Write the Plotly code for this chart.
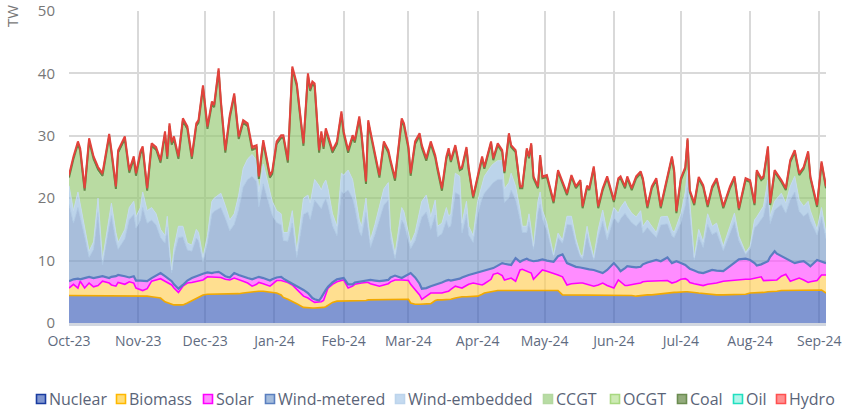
import datetime as dt
import plotly.graph_objects as go

# ---------------- data (TW, daily values) ----------------
day_offsets = [
    0, 2, 4, 5, 7, 9, 11, 13, 15, 18,
    19, 21, 22, 25, 27, 29, 30, 32, 33, 35,
    37, 39, 41, 43, 44, 45, 46, 47, 49, 51,
    53, 55, 57, 58, 60, 62, 64, 65, 67, 68,
    70, 72, 74, 76, 78, 80, 82, 84, 85, 87,
    90, 91, 93, 95, 96, 98, 100, 102, 105, 107,
    108, 109, 110, 112, 113, 114, 115, 116, 118, 120,
    122, 123, 125, 127, 128, 130, 131, 133, 134, 135,
    137, 139, 141, 143, 144, 146, 149, 150, 152, 153,
    155, 157, 158, 160, 162, 164, 165, 167, 169, 170,
    171, 173, 175, 176, 178, 179, 181, 183, 185, 186,
    189, 190, 192, 194, 195, 197, 198, 200, 202, 203,
    205, 206, 207, 208, 210, 211, 212, 214, 217, 219,
    221, 223, 225, 227, 229, 230, 232, 233, 235, 237,
    239, 241, 244, 246, 247, 249, 250, 252, 254, 256,
    257, 259, 261, 263, 265, 268, 270, 271, 272, 274,
    276, 277, 278, 280, 282, 284, 286, 288, 290, 293,
    296, 298, 300, 303, 305, 307, 308, 310, 311, 313,
    314, 316, 317, 319, 321, 323, 325, 327, 329, 331,
    332, 335, 337, 339,
]

nuclear = [
    4.4, 4.4, 4.4, 4.4, 4.4, 4.3, 4.3, 4.3, 4.3, 4.3,
    4.3, 4.3, 4.3, 4.3, 4.3, 4.3, 4.4, 4.4, 4.4, 4.3,
    4.2, 4.1, 4.0, 3.4, 3.3, 3.1, 3.0, 2.9, 2.9, 2.9,
    3.2, 3.6, 3.9, 4.1, 4.5, 4.6, 4.6, 4.6, 4.6, 4.6,
    4.6, 4.6, 4.6, 4.7, 4.8, 4.9, 5.0, 5.1, 5.1, 5.1,
    5.0, 4.9, 4.8, 4.5, 4.1, 3.8, 3.5, 3.1, 2.5, 2.4,
    2.4, 2.4, 2.4, 2.4, 2.4, 2.5, 2.6, 2.8, 3.3, 3.5,
    3.5, 3.6, 3.6, 3.6, 3.6, 3.6, 3.6, 3.6, 3.7, 3.7,
    3.7, 3.7, 3.7, 3.7, 3.7, 3.7, 3.8, 3.8, 3.8, 3.2,
    3.0, 3.0, 3.0, 3.0, 3.1, 3.6, 3.7, 3.7, 3.7, 3.7,
    3.8, 4.0, 4.2, 4.2, 4.2, 4.2, 4.2, 4.3, 4.6, 4.8,
    5.0, 5.1, 5.2, 5.2, 5.2, 5.2, 5.2, 5.2, 5.2, 5.2,
    5.2, 5.2, 5.2, 5.2, 5.2, 5.2, 5.2, 5.2, 5.2, 5.2,
    4.5, 4.5, 4.5, 4.5, 4.5, 4.5, 4.5, 4.5, 4.5, 4.5,
    4.5, 4.5, 4.5, 4.4, 4.4, 4.4, 4.4, 4.4, 4.3, 4.4,
    4.4, 4.5, 4.5, 4.6, 4.6, 4.8, 4.9, 4.9, 4.9, 5.0,
    5.0, 5.0, 5.0, 4.9, 4.8, 4.7, 4.6, 4.6, 4.5, 4.5,
    4.5, 4.5, 4.5, 4.6, 4.8, 4.8, 4.8, 4.9, 4.9, 5.0,
    5.0, 5.1, 5.1, 5.2, 5.2, 5.3, 5.3, 5.3, 5.3, 5.3,
    5.3, 5.3, 5.3, 4.8,
]

biomass = [
    1.2, 1.8, 1.2, 2.3, 1.2, 2.1, 1.5, 1.7, 2.4, 2.1,
    1.8, 1.6, 2.2, 1.9, 2.3, 2.1, 1.2, 0.9, 0.8, 1.2,
    2.5, 2.8, 3.1, 3.3, 3.2, 3.2, 3.1, 2.7, 2.0, 3.0,
    3.2, 2.9, 2.8, 2.7, 2.4, 2.8, 2.8, 2.8, 2.8, 2.7,
    2.4, 2.3, 2.6, 2.3, 1.9, 1.5, 0.9, 1.1, 1.4, 1.2,
    0.9, 1.3, 2.0, 2.3, 2.6, 2.7, 2.6, 2.3, 1.8, 1.6,
    1.3, 1.1, 0.9, 0.9, 1.0, 1.1, 1.9, 2.8, 2.9, 3.1,
    3.3, 3.3, 2.0, 2.3, 2.6, 2.8, 2.8, 2.9, 2.8, 2.6,
    2.4, 2.2, 2.4, 2.6, 2.9, 3.2, 3.1, 3.1, 3.0, 3.0,
    2.4, 1.5, 0.8, 1.3, 1.7, 1.2, 1.1, 1.1, 1.3, 1.4,
    1.6, 1.9, 1.5, 1.4, 1.8, 2.0, 2.2, 2.0, 1.5, 1.5,
    2.0, 2.7, 2.8, 2.4, 1.7, 1.9, 2.0, 1.5, 3.3, 3.4,
    3.1, 2.9, 2.8, 1.8, 2.6, 3.0, 3.3, 3.1, 2.8, 2.5,
    2.9, 1.6, 1.8, 1.9, 1.9, 1.9, 1.7, 1.6, 1.4, 1.6,
    1.9, 1.5, 1.1, 2.5, 2.2, 1.6, 1.6, 1.8, 2.0, 2.0,
    2.2, 2.2, 2.2, 2.1, 2.2, 2.0, 1.5, 1.6, 1.7, 2.0,
    2.1, 1.9, 1.5, 1.4, 1.3, 1.3, 1.6, 1.7, 1.9, 2.2,
    2.3, 2.4, 2.4, 2.4, 2.2, 2.4, 2.5, 2.5, 1.9, 1.8,
    1.8, 1.8, 1.8, 2.3, 2.6, 1.4, 1.7, 1.9, 1.6, 1.2,
    1.3, 1.5, 2.4, 2.9,
]

solar = [
    1.1, 0.8, 1.5, 0.3, 1.6, 1.0, 1.4, 1.3, 0.8, 0.8,
    1.3, 1.6, 1.2, 1.3, 0.7, 1.1, 1.2, 1.5, 1.6, 1.2,
    0.5, 0.7, 0.9, 0.8, 0.7, 0.6, 0.6, 0.6, 0.6, 0.2,
    0.4, 0.7, 0.8, 0.9, 1.0, 0.7, 0.6, 0.7, 0.8, 0.7,
    0.5, 0.4, 0.8, 0.7, 0.7, 0.8, 1.1, 1.0, 0.9, 0.9,
    0.9, 0.8, 0.5, 0.6, 0.4, 0.2, 0.2, 0.6, 1.0, 0.8,
    0.7, 0.5, 0.5, 0.3, 0.7, 1.2, 0.8, 0.2, 0.3, 0.4,
    0.4, 0.3, 0.6, 0.3, 0.3, 0.2, 0.3, 0.3, 0.4, 0.6,
    0.7, 0.8, 0.7, 0.6, 0.7, 0.7, 0.3, 0.5, 1.0, 1.8,
    1.9, 1.8, 1.7, 1.3, 1.1, 1.3, 1.5, 1.7, 1.8, 1.8,
    1.4, 1.0, 1.4, 1.7, 1.6, 1.5, 1.5, 1.8, 2.3, 2.2,
    1.7, 1.0, 1.2, 2.0, 2.6, 2.2, 2.1, 3.7, 1.3, 1.4,
    2.0, 2.0, 2.0, 2.9, 2.2, 1.9, 1.7, 1.7, 1.8, 3.0,
    3.6, 3.5, 3.0, 2.6, 2.5, 2.4, 2.5, 2.5, 2.6, 2.1,
    1.6, 2.5, 4.0, 1.9, 1.7, 2.8, 3.1, 2.8, 2.6, 2.6,
    2.8, 3.0, 3.2, 3.4, 3.1, 3.7, 3.2, 3.3, 3.3, 2.6,
    2.2, 2.1, 2.2, 2.1, 2.0, 2.0, 2.0, 2.2, 2.0, 1.6,
    2.3, 2.7, 3.3, 3.3, 3.1, 2.4, 1.9, 2.0, 2.8, 3.1,
    3.8, 4.6, 4.2, 3.2, 2.5, 3.2, 2.6, 2.6, 3.0, 2.9,
    2.5, 3.3, 2.1, 1.9,
]

wind_metered = [
    12.3, 9.0, 11.4, 10.0, 6.7, 3.1, 4.6, 10.4, 1.8, 8.4,
    9.8, 5.6, 4.1, 6.0, 9.3, 9.9, 8.4, 9.7, 11.7, 9.3,
    9.3, 8.1, 5.7, 5.3, 8.2, 4.1, 1.3, 4.7, 8.2, 7.7,
    4.9, 4.3, 6.1, 5.5, 1.9, 4.8, 9.5, 9.8, 10.1, 10.5,
    9.3, 7.5, 7.8, 10.5, 14.4, 15.8, 16.5, 15.5, 11.2, 15.1,
    11.7, 10.3, 8.8, 8.3, 6.1, 6.4, 9.7, 4.5, 12.1, 13.0,
    12.2, 14.0, 15.9, 15.2, 14.2, 14.5, 14.6, 13.0, 9.1, 7.0,
    13.8, 13.6, 15.1, 13.8, 12.0, 8.1, 7.2, 10.9, 7.5, 5.2,
    7.4, 9.7, 12.1, 12.8, 6.3, 2.7, 9.3, 8.5, 5.5, 3.9,
    5.9, 9.2, 11.5, 12.2, 9.1, 11.2, 7.5, 7.8, 9.6, 8.4,
    8.8, 14.0, 13.4, 7.1, 9.8, 6.4, 5.0, 9.4, 11.6, 12.3,
    13.4, 13.7, 13.8, 13.4, 9.8, 10.8, 12.0, 9.4, 6.8, 4.5,
    4.2, 6.1, 4.1, 1.9, 7.8, 8.9, 6.5, 4.9, 0.8, 3.0,
    1.8, 6.2, 6.4, 3.7, 1.7, 1.5, 5.6, 4.0, 1.6, 5.6,
    8.3, 4.8, 7.3, 7.2, 8.4, 8.8, 7.9, 7.1, 6.6, 7.4,
    5.0, 5.6, 4.6, 3.6, 5.8, 5.4, 4.4, 3.9, 4.6, 6.5,
    9.6, 12.7, 8.9, 1.7, 5.7, 4.1, 7.6, 5.7, 6.2, 3.3,
    5.3, 6.6, 3.0, 0.7, 1.8, 5.7, 6.4, 7.1, 7.5, 10.7,
    5.3, 6.6, 7.3, 8.3, 7.3, 9.9, 11.4, 8.1, 7.2, 8.3,
    7.3, 4.0, 7.2, 3.9,
]

wind_embedded = [
    3.0, 2.0, 2.5, 2.2, 1.6, 1.0, 1.2, 2.3, 0.8, 1.9,
    2.0, 1.4, 1.1, 1.5, 1.9, 2.1, 1.8, 2.0, 2.5, 2.0,
    2.0, 1.8, 1.3, 1.2, 1.7, 1.0, 0.5, 1.1, 1.8, 1.7,
    1.1, 1.0, 1.4, 1.3, 0.7, 1.1, 2.0, 2.1, 2.2, 2.3,
    2.0, 1.7, 1.7, 2.3, 3.0, 3.3, 3.5, 3.3, 2.4, 3.2,
    2.5, 2.2, 1.9, 1.8, 1.3, 1.4, 2.0, 1.0, 2.6, 2.7,
    2.6, 3.0, 3.3, 3.2, 3.0, 3.0, 3.0, 2.7, 1.9, 1.5,
    3.0, 2.9, 3.2, 3.0, 2.5, 1.8, 1.6, 2.3, 1.6, 1.2,
    1.6, 2.1, 2.6, 2.8, 1.4, 0.7, 2.0, 1.9, 1.2, 0.9,
    1.3, 2.0, 2.5, 2.7, 2.0, 2.4, 1.7, 1.7, 2.1, 1.8,
    1.9, 3.1, 3.0, 1.6, 2.1, 1.4, 1.1, 2.0, 2.5, 2.7,
    3.0, 3.0, 3.0, 3.0, 2.2, 2.4, 2.7, 2.1, 1.5, 1.0,
    1.0, 1.3, 0.9, 0.5, 1.7, 2.0, 1.4, 1.1, 0.3, 0.7,
    0.5, 1.3, 1.4, 0.8, 0.4, 0.4, 1.2, 0.9, 0.4, 1.2,
    1.8, 1.1, 1.6, 1.6, 1.8, 1.9, 1.7, 1.5, 1.5, 1.6,
    1.1, 1.2, 1.0, 0.8, 1.3, 1.2, 1.0, 0.8, 1.0, 1.4,
    2.1, 2.8, 1.9, 0.4, 1.2, 0.9, 1.7, 1.3, 1.4, 0.7,
    1.1, 1.4, 0.7, 0.3, 0.4, 1.2, 1.4, 1.5, 1.6, 2.3,
    1.2, 1.4, 1.6, 1.8, 1.6, 2.1, 2.5, 1.8, 1.6, 1.8,
    1.6, 0.9, 1.5, 0.9,
]

ccgt = [
    0.9, 7.9, 7.3, 8.0, 5.3, 17.3, 12.9, 4.2, 13.1, 12.0,
    7.7, 6.6, 14.0, 14.1, 5.2, 6.4, 6.2, 8.2, 6.5, 2.8,
    9.5, 9.9, 10.3, 15.9, 8.8, 19.2, 19.7, 17.1, 10.4, 16.5,
    17.9, 13.4, 16.2, 17.2, 26.8, 16.7, 15.2, 14.2, 19.5, 14.1,
    8.1, 16.0, 18.5, 8.6, 6.9, 4.9, 0.4, 1.7, 1.7, 3.0,
    1.9, 4.0, 10.3, 11.8, 14.8, 10.8, 22.3, 26.1, 8.0, 18.7,
    17.6, 16.9, 14.6, 4.9, 8.6, 5.2, 7.5, 7.8, 9.4, 12.8,
    9.3, 6.4, 2.6, 6.5, 7.7, 16.0, 14.3, 2.1, 15.9, 16.8,
    10.8, 4.6, 7.0, 4.6, 10.5, 11.6, 13.7, 13.6, 13.2, 10.6,
    14.0, 12.3, 8.4, 5.3, 11.5, 6.6, 8.9, 5.0, 7.6, 10.3,
    8.3, 4.2, 1.0, 8.7, 8.4, 9.0, 6.0, 3.9, 3.9, 1.2,
    3.7, 0.6, 2.5, 1.4, 2.5, 7.6, 4.2, 5.5, 3.5, 6.1,
    12.2, 8.9, 13.5, 10.9, 2.1, 5.6, 5.1, 7.4, 8.3, 9.8,
    9.1, 3.4, 6.3, 8.1, 11.6, 7.7, 6.2, 7.8, 14.3, 3.4,
    3.2, 8.8, 0.9, 5.3, 4.7, 2.1, 4.5, 3.7, 6.2, 6.0,
    7.4, 1.9, 6.1, 8.4, 1.4, 5.8, 11.4, 9.7, 2.1, 5.4,
    3.7, 4.8, 1.5, 8.4, 8.1, 8.8, 1.1, 6.1, 6.9, 6.1,
    6.1, 5.6, 4.2, 11.6, 10.3, 2.4, 7.2, 4.9, 4.5, 5.1,
    1.8, 4.7, 3.7, 1.8, 2.1, 3.9, 3.9, 4.0, 6.0, 7.7,
    5.2, 3.6, 7.1, 7.2,
]

ocgt = [
    0.1, 0.1, 0.1, 0.1, 0.1, 0.1, 0.1, 0.1, 0.1, 0.1,
    0.1, 0.1, 0.1, 0.1, 0.1, 0.1, 0.1, 0.1, 0.1, 0.1,
    0.1, 0.1, 0.1, 0.1, 0.1, 0.1, 0.1, 0.1, 0.1, 0.1,
    0.1, 0.1, 0.1, 0.1, 0.1, 0.1, 0.1, 0.1, 0.1, 0.1,
    0.1, 0.1, 0.1, 0.1, 0.1, 0.1, 0.1, 0.1, 0.1, 0.1,
    0.1, 0.1, 0.1, 0.1, 0.1, 0.1, 0.1, 0.1, 0.1, 0.1,
    0.1, 0.1, 0.1, 0.1, 0.1, 0.1, 0.1, 0.1, 0.1, 0.1,
    0.1, 0.1, 0.1, 0.1, 0.1, 0.1, 0.1, 0.1, 0.1, 0.1,
    0.1, 0.1, 0.1, 0.1, 0.1, 0.1, 0.1, 0.1, 0.1, 0.1,
    0.1, 0.1, 0.1, 0.1, 0.1, 0.1, 0.1, 0.1, 0.1, 0.1,
    0.0, 0.0, 0.0, 0.0, 0.0, 0.0, 0.0, 0.0, 0.0, 0.0,
    0.0, 0.0, 0.0, 0.0, 0.0, 0.0, 0.0, 0.0, 0.0, 0.0,
    0.0, 0.0, 0.0, 0.0, 0.0, 0.0, 0.0, 0.0, 0.0, 0.0,
    0.0, 0.0, 0.0, 0.0, 0.0, 0.0, 0.0, 0.0, 0.0, 0.0,
    0.0, 0.0, 0.0, 0.0, 0.0, 0.0, 0.0, 0.0, 0.0, 0.0,
    0.0, 0.0, 0.0, 0.0, 0.0, 0.0, 0.0, 0.0, 0.0, 0.0,
    0.0, 0.0, 0.0, 0.0, 0.0, 0.0, 0.0, 0.0, 0.0, 0.0,
    0.0, 0.0, 0.0, 0.0, 0.0, 0.0, 0.0, 0.0, 0.0, 0.0,
    0.0, 0.0, 0.0, 0.0, 0.0, 0.0, 0.0, 0.0, 0.0, 0.0,
    0.0, 0.0, 0.0, 0.0,
]

coal = [
    0.3, 0.3, 0.3, 0.3, 0.3, 0.3, 0.3, 0.3, 0.3, 0.3,
    0.3, 0.3, 0.3, 0.3, 0.3, 0.3, 0.3, 0.3, 0.3, 0.3,
    0.3, 0.3, 0.3, 0.3, 0.3, 0.3, 0.3, 0.3, 0.3, 0.3,
    0.3, 0.3, 0.3, 0.3, 0.3, 0.3, 0.3, 0.3, 0.3, 0.3,
    0.3, 0.3, 0.3, 0.3, 0.3, 0.3, 0.3, 0.3, 0.3, 0.3,
    0.3, 0.3, 0.3, 0.3, 0.3, 0.3, 0.3, 0.3, 0.3, 0.3,
    0.3, 0.3, 0.3, 0.3, 0.3, 0.3, 0.3, 0.3, 0.3, 0.3,
    0.1, 0.1, 0.1, 0.1, 0.1, 0.1, 0.1, 0.1, 0.1, 0.1,
    0.1, 0.1, 0.1, 0.1, 0.1, 0.1, 0.1, 0.1, 0.1, 0.1,
    0.1, 0.1, 0.1, 0.1, 0.1, 0.1, 0.1, 0.1, 0.1, 0.1,
    0.0, 0.0, 0.0, 0.0, 0.0, 0.0, 0.0, 0.0, 0.0, 0.0,
    0.0, 0.0, 0.0, 0.0, 0.0, 0.0, 0.0, 0.0, 0.0, 0.0,
    0.0, 0.0, 0.0, 0.0, 0.0, 0.0, 0.0, 0.0, 0.0, 0.0,
    0.0, 0.0, 0.0, 0.0, 0.0, 0.0, 0.0, 0.0, 0.0, 0.0,
    0.0, 0.0, 0.0, 0.0, 0.0, 0.0, 0.0, 0.0, 0.0, 0.0,
    0.0, 0.0, 0.0, 0.0, 0.0, 0.0, 0.0, 0.0, 0.0, 0.0,
    0.0, 0.0, 0.0, 0.0, 0.0, 0.0, 0.0, 0.0, 0.0, 0.0,
    0.0, 0.0, 0.0, 0.0, 0.0, 0.0, 0.0, 0.0, 0.0, 0.0,
    0.0, 0.0, 0.0, 0.0, 0.0, 0.0, 0.0, 0.0, 0.0, 0.0,
    0.0, 0.0, 0.0, 0.0,
]

oil = [0.0] * len(day_offsets)

hydro = [
    0.4, 0.4, 0.4, 0.4, 0.4, 0.4, 0.4, 0.4, 0.4, 0.4,
    0.4, 0.4, 0.4, 0.4, 0.4, 0.4, 0.4, 0.4, 0.4, 0.4,
    0.4, 0.4, 0.4, 0.4, 0.4, 0.4, 0.4, 0.4, 0.4, 0.4,
    0.4, 0.4, 0.4, 0.4, 0.4, 0.4, 0.4, 0.4, 0.4, 0.4,
    0.4, 0.4, 0.4, 0.4, 0.4, 0.4, 0.4, 0.4, 0.4, 0.4,
    0.4, 0.4, 0.4, 0.4, 0.4, 0.4, 0.4, 0.4, 0.4, 0.4,
    0.4, 0.4, 0.4, 0.4, 0.4, 0.4, 0.4, 0.4, 0.4, 0.4,
    0.4, 0.4, 0.4, 0.4, 0.4, 0.4, 0.4, 0.4, 0.4, 0.4,
    0.4, 0.4, 0.4, 0.4, 0.4, 0.4, 0.4, 0.4, 0.4, 0.4,
    0.4, 0.4, 0.4, 0.4, 0.4, 0.4, 0.4, 0.4, 0.4, 0.4,
    0.3, 0.3, 0.3, 0.3, 0.3, 0.3, 0.3, 0.3, 0.3, 0.3,
    0.3, 0.3, 0.3, 0.3, 0.3, 0.3, 0.3, 0.3, 0.3, 0.3,
    0.3, 0.3, 0.3, 0.3, 0.3, 0.3, 0.3, 0.3, 0.3, 0.3,
    0.3, 0.3, 0.3, 0.3, 0.3, 0.3, 0.3, 0.3, 0.3, 0.3,
    0.3, 0.3, 0.3, 0.3, 0.3, 0.3, 0.3, 0.3, 0.3, 0.3,
    0.3, 0.3, 0.3, 0.3, 0.3, 0.3, 0.3, 0.3, 0.3, 0.3,
    0.3, 0.3, 0.3, 0.3, 0.3, 0.3, 0.3, 0.3, 0.3, 0.3,
    0.3, 0.3, 0.3, 0.3, 0.3, 0.3, 0.3, 0.3, 0.3, 0.3,
    0.3, 0.3, 0.3, 0.3, 0.3, 0.3, 0.3, 0.3, 0.3, 0.3,
    0.3, 0.3, 0.3, 0.3,
]

series_names = ["Nuclear", "Biomass", "Solar", "Wind-metered", "Wind-embedded",
                "CCGT", "OCGT", "Coal", "Oil", "Hydro"]
y_tick_values = [0, 10, 20, 30, 40, 50]
y_unit = "TW"

# ---------------- styles ----------------
ALPHA = 0.65
styles = {
    # name: (area fill, boundary line colour, line width, legend fill, legend border)
    "Nuclear":       ((60, 94, 186),   "#f2a900", 1.6, "#8096d0", "#1a3ca0"),
    "Biomass":       ((255, 206, 84),  "#ff00ff", 1.6, "#ffdd77", "#ffb800"),
    "Solar":         ((255, 78, 255),  "#5b7dc0", 2.2, "#ff8cff", "#ff00ff"),
    "Wind-metered":  ((121, 155, 200), "rgba(172,198,226,1)", 0.8, "#a4bcdc", "#5a7fbf"),
    "Wind-embedded": ((152, 189, 223), "rgba(196,218,238,1)", 1.0, "#c4daf0", "#bcd4ec"),
    "CCGT":          ((147, 200, 112), "rgba(0,0,0,0)", 0, "#b8dca4", "#b4d8a0"),
    "OCGT":          ((168, 216, 120), "rgba(0,0,0,0)", 0, "#cdeab4", "#a8d880"),
    "Coal":          ((90, 130, 60),   "#5f8c46", 2.0, "#93ab7c", "#6b8c50"),
    "Oil":           ((0, 220, 190),   "rgba(0,0,0,0)", 0, "#b0f5ea", "#20e0c0"),
    "Hydro":         ((230, 60, 60),   "#e2423c", 2.0, "#ff9090", "#ff5050"),
}

values = [nuclear, biomass, solar, wind_metered, wind_embedded,
          ccgt, ocgt, coal, oil, hydro]

start = dt.date(2023, 10, 1)
dates = [(start + dt.timedelta(days=d)).isoformat() for d in day_offsets]
x_end = (start + dt.timedelta(days=day_offsets[-1])).isoformat()

fig = go.Figure()
for name, vals in zip(series_names, values):
    fillrgb, linec, lw, _, _ = styles[name]
    fig.add_trace(go.Scatter(
        x=dates, y=vals, name=name, mode="lines",
        stackgroup="gen",
        line=dict(color=linec, width=lw, shape="linear"),
        fillcolor="rgba(%d,%d,%d,%.2f)" % (fillrgb + (ALPHA,)),
        showlegend=False, hoverinfo="x+y+name",
    ))

# ---------------- layout ----------------
L, R, T, B = 69, 18, 11, 92
W, H = 844, 415
pw, ph = W - L - R, H - T - B


def px_x(px):
    return (px - L) / pw


def px_y(py):
    return (H - B - py) / ph


TEXT_FONT = "Open Sans, Lato, DejaVu Sans, sans-serif"

fig.update_layout(
    width=W, height=H,
    margin=dict(l=L, r=R, t=T, b=B, pad=0, autoexpand=False),
    paper_bgcolor="white", plot_bgcolor="white",
    font=dict(family=TEXT_FONT, color="#666e80"),
    showlegend=False,
)

fig.update_xaxes(
    type="date", automargin=False,
    range=[start.isoformat(), x_end],
    tick0=start.isoformat(), dtick="M1", tickformat="%b-%y",
    showgrid=True, gridcolor="#d9d9d9", gridwidth=2,
    showline=True, linecolor="#d2d7e0", linewidth=3,
    zeroline=False, ticks="",
    ticklabelstandoff=3,
    tickfont=dict(size=14, color="#5f6b80", family=TEXT_FONT),
)
fig.update_yaxes(
    automargin=False,
    range=[0, 50], tickvals=y_tick_values,
    showgrid=True, gridcolor="#d9d9d9", gridwidth=2,
    showline=False, zeroline=False, ticks="",
    ticklabelstandoff=13,
    tickfont=dict(size=15, color="#777777", family=TEXT_FONT),
)

# y-axis unit at the top
fig.add_annotation(
    x=px_x(12), y=px_y(16), xref="paper", yref="paper",
    text=y_unit, textangle=-90, showarrow=False,
    font=dict(size=15, color="#777777", family=TEXT_FONT),
    xanchor="center", yanchor="middle",
)

# custom legend (square swatch + label), laid out like the original
legend_left = [36.5, 116.5, 203.5, 265.5, 395.5, 543.5, 610.5, 677.5, 733.5, 776.5]
sq = 9
ly = 399
for name, x0 in zip(series_names, legend_left):
    _, _, _, lfill, lborder = styles[name]
    fig.add_shape(
        type="rect", xref="paper", yref="paper",
        x0=px_x(x0), x1=px_x(x0 + sq), y0=px_y(ly + sq / 2), y1=px_y(ly - sq / 2),
        fillcolor=lfill, line=dict(color=lborder, width=1.6),
    )
    fig.add_annotation(
        x=px_x(x0 + sq + 1.5), y=px_y(ly), xref="paper", yref="paper",
        text=name, showarrow=False, xanchor="left", yanchor="middle",
        font=dict(size=16, color="#5a6478", family=TEXT_FONT),
    )

# remove the browser's default page margin so the figure starts at (0, 0)
fig.write_html(
    "out.html",
    config={"displayModeBar": False},
    post_script="document.body.style.margin='0';document.body.style.padding='0';"
                "document.body.style.overflow='hidden';",
)
